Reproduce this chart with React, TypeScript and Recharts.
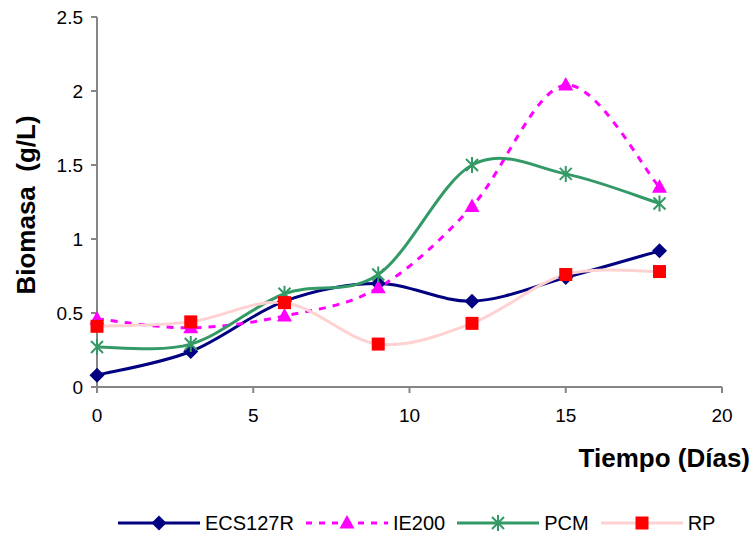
import { LineChart, Line, XAxis, YAxis, Legend } from 'recharts';

const days = [0, 3, 6, 9, 12, 15, 18];
const ecs127r = [0.08, 0.24, 0.58, 0.7, 0.58, 0.74, 0.92];
const ie200 = [0.46, 0.4, 0.48, 0.67, 1.22, 2.04, 1.35];
const pcm = [0.27, 0.29, 0.63, 0.76, 1.5, 1.44, 1.24];
const rp = [0.41, 0.44, 0.57, 0.29, 0.43, 0.76, 0.78];

const xTicks = [0, 5, 10, 15, 20];
const yTicks = [0, 0.5, 1, 1.5, 2, 2.5];

const data = days.map((d, i) => ({
  day: d,
  ecs127r: ecs127r[i],
  ie200: ie200[i],
  pcm: pcm[i],
  rp: rp[i],
}));

const FONT = 'Arial, "Liberation Sans", sans-serif';
const NAVY = '#000080';
const MAGENTA = '#ff00ff';
const GREEN = '#339966';
const PINK = '#ffd2d2';
const RED = '#ff0000';
const AXIS = '#868686';

// Excel-style smoothed line: cubic Bezier through every point (Catmull-Rom tangents)
const smooth = (context: any) => {
  let pts: [number, number][] = [];
  return {
    areaStart() {},
    areaEnd() {},
    lineStart() {
      pts = [];
    },
    point(x: number, y: number) {
      pts.push([+x, +y]);
    },
    lineEnd() {
      if (!pts.length) return;
      context.moveTo(pts[0][0], pts[0][1]);
      for (let i = 0; i < pts.length - 1; i++) {
        const p0 = pts[Math.max(i - 1, 0)];
        const p1 = pts[i];
        const p2 = pts[i + 1];
        const p3 = pts[Math.min(i + 2, pts.length - 1)];
        context.bezierCurveTo(
          p1[0] + (p2[0] - p0[0]) / 6,
          p1[1] + (p2[1] - p0[1]) / 6,
          p2[0] - (p3[0] - p1[0]) / 6,
          p2[1] - (p3[1] - p1[1]) / 6,
          p2[0],
          p2[1]
        );
      }
    },
  };
};

type MarkProps = { cx: number; cy: number };

const Diamond = ({ cx, cy }: MarkProps) => (
  <path d={`M${cx},${cy - 7.5}L${cx + 7.5},${cy}L${cx},${cy + 7.5}L${cx - 7.5},${cy}Z`} fill={NAVY} />
);

const Triangle = ({ cx, cy }: MarkProps) => (
  <path d={`M${cx},${cy - 8}L${cx + 7.5},${cy + 5.5}L${cx - 7.5},${cy + 5.5}Z`} fill={MAGENTA} />
);

const Star = ({ cx, cy }: MarkProps) => (
  <path
    d={`M${cx - 6},${cy - 6}L${cx + 6},${cy + 6}M${cx + 6},${cy - 6}L${cx - 6},${cy + 6}M${cx},${cy - 8}L${cx},${cy + 8}`}
    stroke={GREEN}
    strokeWidth={2}
    fill="none"
  />
);

const Square = ({ cx, cy }: MarkProps) => (
  <rect x={cx - 6.5} y={cy - 6.5} width={13} height={13} fill={RED} />
);

const dotOf = (Mark: (p: MarkProps) => any) => (p: any) =>
  p.cx == null ? null : <Mark key={p.index} cx={p.cx} cy={p.cy} />;

const legendItems = [
  { name: 'ECS127R', color: NAVY, dash: undefined, Mark: Diamond },
  { name: 'IE200', color: MAGENTA, dash: '6 7', Mark: Triangle },
  { name: 'PCM', color: GREEN, dash: undefined, Mark: Star },
  { name: 'RP', color: PINK, dash: undefined, Mark: Square },
];

const renderLegend = () => (
  <div style={{ display: 'flex', alignItems: 'center', fontFamily: FONT, fontSize: 20, color: '#000' }}>
    {legendItems.map(({ name, color, dash, Mark }) => (
      <div key={name} style={{ display: 'flex', alignItems: 'center', marginRight: 12 }}>
        <svg width={82} height={24}>
          <line x1={0} y1={12} x2={82} y2={12} stroke={color} strokeWidth={3} strokeDasharray={dash} />
          <Mark cx={41} cy={12} />
        </svg>
        <span style={{ marginLeft: 5, lineHeight: '24px' }}>{name}</span>
      </div>
    ))}
  </div>
);

export default function App() {
  const tick = { fill: '#000', fontSize: 19, fontFamily: FONT };
  return (
    <div style={{ position: 'absolute', left: 0, top: 0, width: 754, height: 538, background: '#fff' }}>
      <LineChart width={754} height={538} data={data} margin={{ top: 17, right: 32, left: 37, bottom: 121 }}>
        <XAxis
          dataKey="day"
          type="number"
          domain={[0, 20]}
          ticks={xTicks}
          interval={0}
          tick={tick}
          tickSize={6}
          tickMargin={16}
          height={30}
          axisLine={{ stroke: AXIS, strokeWidth: 2 }}
          tickLine={{ stroke: AXIS, strokeWidth: 2 }}
          label={{
            content: () => (
              <text x={750} y={467} textAnchor="end" fontFamily={FONT} fontSize={26} fontWeight="bold" fill="#000">
                Tiempo (Días)
              </text>
            ),
          }}
        />
        <YAxis
          type="number"
          domain={[0, 2.5]}
          ticks={yTicks}
          interval={0}
          width={60}
          tick={tick}
          tickSize={6}
          tickMargin={8}
          axisLine={{ stroke: AXIS, strokeWidth: 2 }}
          tickLine={{ stroke: AXIS, strokeWidth: 2 }}
          label={{
            content: () => (
              <text
                x={35}
                y={205}
                transform="rotate(-90 35 205)"
                textAnchor="middle"
                fontFamily={FONT}
                fontSize={26}
                fontWeight="bold"
                fill="#000"
                style={{ whiteSpace: 'pre' }}
              >
                Biomasa  (g/L)
              </text>
            ),
          }}
        />
        <Legend
          layout="horizontal"
          verticalAlign="middle"
          align="center"
          content={renderLegend}
          wrapperStyle={{ top: 511, left: 118, width: 'auto' }}
        />
        <Line
          dataKey="ecs127r"
          name="ECS127R"
          type={smooth as any}
          stroke={NAVY}
          strokeWidth={3}
          dot={dotOf(Diamond)}
          activeDot={false}
          isAnimationActive={false}
        />
        <Line
          dataKey="ie200"
          name="IE200"
          type={smooth as any}
          stroke={MAGENTA}
          strokeWidth={3}
          strokeDasharray="7 7"
          dot={dotOf(Triangle)}
          activeDot={false}
          isAnimationActive={false}
        />
        <Line
          dataKey="pcm"
          name="PCM"
          type={smooth as any}
          stroke={GREEN}
          strokeWidth={3}
          dot={dotOf(Star)}
          activeDot={false}
          isAnimationActive={false}
        />
        <Line
          dataKey="rp"
          name="RP"
          type={smooth as any}
          stroke={PINK}
          strokeWidth={3}
          dot={dotOf(Square)}
          activeDot={false}
          isAnimationActive={false}
        />
      </LineChart>
    </div>
  );
}
